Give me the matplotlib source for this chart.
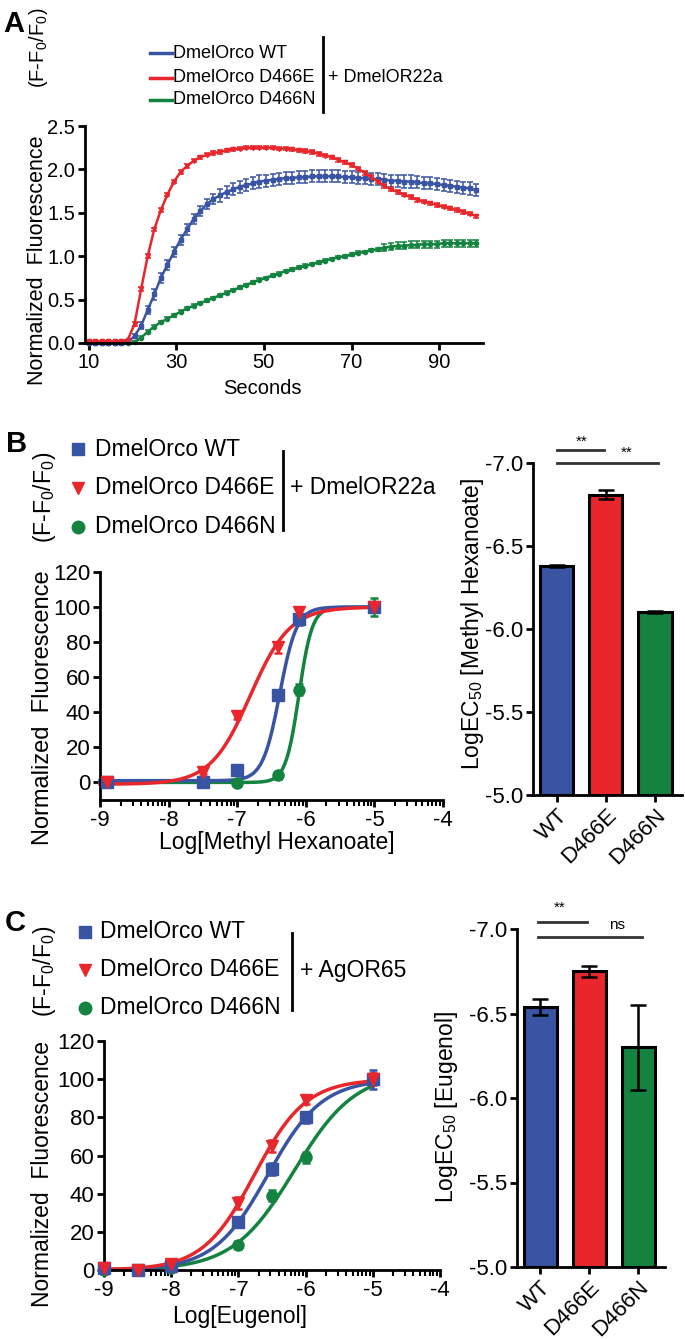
import numpy as np
import matplotlib
matplotlib.use('Agg')
import matplotlib.pyplot as plt
from matplotlib.lines import Line2D

plt.rcParams['font.family'] = ['Liberation Sans', 'DejaVu Sans']
plt.rcParams['mathtext.fontset'] = 'custom'
plt.rcParams['mathtext.rm'] = 'Liberation Sans'
plt.rcParams['mathtext.it'] = 'Liberation Sans:italic'
plt.rcParams['axes.unicode_minus'] = False

W, H = 685, 1339
BLUE = '#3a54a4'
RED = '#e8262b'
GREEN = '#13833f'
colors = [BLUE, RED, GREEN]
genotypes = ['DmelOrco WT', 'DmelOrco D466E', 'DmelOrco D466N']
bar_labels = ['WT', 'D466E', 'D466N']

# --- panel A: time course (mean, sem) ---
seconds = [10, 11.5, 13, 14.5, 16, 17.5, 19, 20.5, 22, 23.5, 25, 26.5, 28, 29.5, 31,
           32.5, 34, 35.5, 37, 38.5, 40, 41.5, 43, 44.5, 46, 47.5, 49, 50.5, 52, 53.5,
           55, 56.5, 58, 59.5, 61, 62.5, 64, 65.5, 67, 68.5, 70, 71.5, 73, 74.5, 76,
           77.5, 79, 80.5, 82, 83.5, 85, 86.5, 88, 89.5, 91, 92.5, 94, 95.5, 97, 98.5]
wt_trace = [0.0, 0.0, 0.0, 0.0, 0.0, 0.0, 0.01,
            0.08, 0.2, 0.38, 0.56, 0.75, 0.9, 1.05, 1.19, 1.31, 1.43, 1.52, 1.6, 1.66,
            1.7, 1.74, 1.77, 1.8, 1.82, 1.84, 1.86, 1.87, 1.88, 1.89,
            1.9, 1.9, 1.91, 1.91, 1.92, 1.92, 1.92, 1.92, 1.92, 1.91,
            1.91, 1.9, 1.9, 1.89, 1.89, 1.88, 1.87, 1.87, 1.86, 1.86,
            1.85, 1.84, 1.84, 1.83, 1.82, 1.81, 1.8, 1.79, 1.78, 1.76]
wt_err = [0, 0, 0, 0, 0, 0, 0,
          0.02, 0.04, 0.05, 0.06, 0.06, 0.06, 0.06, 0.06, 0.06, 0.06, 0.06, 0.06, 0.06,
          0.07, 0.07, 0.07, 0.07, 0.07, 0.07, 0.07, 0.07, 0.07, 0.07,
          0.07, 0.07, 0.07, 0.07, 0.07, 0.07, 0.07, 0.07, 0.07, 0.07,
          0.07, 0.07, 0.07, 0.07, 0.07, 0.07, 0.07, 0.07, 0.07, 0.07,
          0.07, 0.07, 0.07, 0.07, 0.07, 0.07, 0.07, 0.07, 0.07, 0.07]
e_trace = [0.02, 0.02, 0.02, 0.02, 0.02, 0.02, 0.04,
           0.22, 0.62, 1.0, 1.31, 1.53, 1.71, 1.86, 1.97, 2.04, 2.1, 2.14, 2.17, 2.19,
           2.2, 2.22, 2.23, 2.24, 2.25, 2.25, 2.25, 2.25, 2.25, 2.24,
           2.24, 2.23, 2.22, 2.21, 2.2, 2.18, 2.16, 2.14, 2.11, 2.08,
           2.05, 2.01, 1.96, 1.91, 1.86, 1.81, 1.77, 1.74, 1.71, 1.68,
           1.65, 1.63, 1.61, 1.59, 1.57, 1.55, 1.53, 1.51, 1.49, 1.46]
e_err = [0, 0, 0, 0, 0, 0, 0,
         0.02, 0.02, 0.02, 0.02, 0.02, 0.02, 0.02, 0.02, 0.02, 0.02, 0.02, 0.02, 0.02,
         0.02, 0.02, 0.02, 0.02, 0.02, 0.02, 0.02, 0.02, 0.02, 0.02,
         0.02, 0.02, 0.02, 0.02, 0.02, 0.02, 0.02, 0.02, 0.02, 0.02,
         0.02, 0.02, 0.02, 0.02, 0.02, 0.02, 0.02, 0.02, 0.02, 0.02,
         0.02, 0.02, 0.02, 0.02, 0.02, 0.02, 0.02, 0.02, 0.02, 0.02]
n_trace = [0.0, 0.0, 0.0, 0.0, 0.0, 0.0, 0.0,
           0.01, 0.06, 0.13, 0.19, 0.24, 0.28, 0.32, 0.36, 0.4, 0.43, 0.46, 0.49, 0.52,
           0.55, 0.58, 0.61, 0.64, 0.67, 0.7, 0.73, 0.75, 0.78, 0.8,
           0.83, 0.85, 0.87, 0.89, 0.91, 0.93, 0.95, 0.97, 0.99, 1.0,
           1.02, 1.04, 1.05, 1.07, 1.08, 1.1, 1.11, 1.12, 1.12, 1.13,
           1.13, 1.14, 1.14, 1.14, 1.15, 1.15, 1.15, 1.15, 1.15, 1.15]
n_err = [0, 0, 0, 0, 0, 0, 0,
         0.015, 0.015, 0.015, 0.015, 0.015, 0.015, 0.015, 0.015, 0.015, 0.015, 0.015, 0.015, 0.015,
         0.015, 0.015, 0.015, 0.015, 0.015, 0.015, 0.015, 0.015, 0.015, 0.015,
         0.015, 0.015, 0.015, 0.015, 0.015, 0.015, 0.015, 0.015, 0.015, 0.015,
         0.015, 0.015, 0.015, 0.015, 0.015, 0.04, 0.04, 0.04, 0.04, 0.04,
         0.04, 0.04, 0.04, 0.04, 0.04, 0.04, 0.04, 0.04, 0.04, 0.04]

# --- panel B: methyl hexanoate dose response ---
mh_logconc = [-8.9, -7.5, -7.0, -6.4, -6.1, -5.0]
mh_wt = [0, 0, 7, 50, 93, 100]
mh_wt_err = [1, 1, 2, 3, 3, 2]
mh_e = [0, 6, 38, 77, 97, 100]
mh_e_err = [1, 1, 2, 3, 2, 2]
mh_n = [0, 0, -0.5, 4, 53, 100]
mh_n_err = [1, 1, 1, 2, 3, 5]
mh_fit_bottom = [1, -1, 0]
mh_fit_top = [100, 100, 100]
mh_fit_logec50 = [-6.38, -6.81, -6.10]
mh_fit_hill = [3.5, 1.5, 4.5]
mh_ec50_bar = [-6.38, -6.81, -6.10]
mh_ec50_err = [0.006, 0.028, 0.006]

# --- panel C: eugenol dose response ---
eu_logconc = [-9.0, -8.5, -8.0, -7.0, -6.5, -6.0, -5.0]
eu_wt = [1, 0, 2, 25, 53, 80, 100]
eu_wt_err = [1, 1, 1, 2, 3, 3, 5]
eu_e = [1, 0, 3, 35, 65, 89, 100]
eu_e_err = [1, 1, 1, 3, 3, 2, 3]
eu_n = [0, 0, 1, 13, 39, 59, 100]
eu_n_err = [1, 1, 1, 2, 3, 3, 2]
eu_fit_bottom = [0, 0, 0]
eu_fit_top = [100, 100, 104]
eu_fit_logec50 = [-6.56, -6.76, -6.17]
eu_fit_hill = [1.08, 1.13, 0.95]
eu_ec50_bar = [-6.54, -6.75, -6.30]
eu_ec50_err = [0.047, 0.032, 0.25]


def fx(px):
    return px / W


def fy(py):
    return 1 - py / H


def style(ax, size):
    for s in ['top', 'right']:
        ax.spines[s].set_visible(False)
    for s in ['left', 'bottom']:
        ax.spines[s].set_linewidth(2)
    ax.tick_params(direction='out', width=2, length=5, pad=2, labelsize=size)
    ax.tick_params(which='minor', direction='out', width=1.5, length=4)


def hill(x, bottom, top, logec50, slope):
    return bottom + (top - bottom) / (1 + 10 ** ((logec50 - x) * slope))


fig = plt.figure(figsize=(W / 100, H / 100), dpi=100)

# ---------------- A ----------------
axA = fig.add_axes([fx(85), fy(343), (483 - 85) / W, (343 - 126) / H])
for tr, er, c, m in [(n_trace, n_err, GREEN, 'o'), (wt_trace, wt_err, BLUE, 's'),
                     (e_trace, e_err, RED, 'v')]:
    axA.errorbar(seconds, tr, yerr=er, color=c, marker=m, ms=3, lw=1.8,
                 capsize=2, elinewidth=1.1, capthick=1.1, clip_on=False)
axA.set_xlim(9.2, 100)
axA.set_ylim(0, 2.5)
axA.set_xticks([10, 30, 50, 70, 90])
axA.set_yticks([0, 0.5, 1.0, 1.5, 2.0, 2.5])
axA.set_yticklabels(['%.1f' % v for v in [0, 0.5, 1.0, 1.5, 2.0, 2.5]])
style(axA, 14.5)

fig.text(fx(262), fy(388), 'Seconds', ha='center', va='center', fontsize=14.5)
fig.text(fx(38), fy(260), 'Normalized  Fluorescence', rotation=90,
         ha='center', va='center', fontsize=15.5)
fig.text(fx(39), fy(48), r'(F-F$_0$/F$_0$)', rotation=90,
         ha='center', va='center', fontsize=14.5)
fig.text(fx(3), fy(24), 'A', fontsize=21, fontweight='bold', ha='left', va='center')

rows = [53, 78, 100]
for y, c, lab in zip(rows, colors, genotypes):
    fig.add_artist(Line2D([fx(150), fx(172)], [fy(y), fy(y)], color=c, lw=2.5,
                          transform=fig.transFigure))
    fig.text(fx(173), fy(y), lab, ha='left', va='center', fontsize=13)
fig.add_artist(Line2D([fx(323), fx(323)], [fy(37), fy(112)], color='black', lw=2,
                      transform=fig.transFigure))
fig.text(fx(328), fy(78), '+ DmelOR22a', ha='left', va='center', fontsize=13)


# ---------------- dose response helper ----------------
def dose_panel(ax, logconc, means, errs, bottoms, tops, ec50s, slopes, ymin):
    xs = np.linspace(-9, -5, 300)
    order = [2, 0, 1]
    for i in order:
        ax.plot(xs, hill(xs, bottoms[i], tops[i], ec50s[i], slopes[i]),
                color=colors[i], lw=2.5, clip_on=False, zorder=2)
    for i, m in zip(order, ['o', 's', 'v']):
        ax.errorbar(logconc, means[i], yerr=errs[i], fmt=m, color=colors[i],
                    ms=8, capsize=3, elinewidth=1.8, capthick=1.8,
                    clip_on=False, zorder=3)
    ax.set_xlim(-9, -4)
    ax.set_ylim(ymin, 120)
    ax.set_xticks(range(-9, -3))
    minor = [d + np.log10(k) for d in range(-9, -4) for k in range(2, 10)]
    ax.set_xticks(minor, minor=True)
    ax.set_yticks(range(0, 121, 20))
    style(ax, 16)


def legend_panel(mx, tx, rows, bar_x, bar_y, partner, partner_x):
    for y, c, lab, m in zip(rows, colors, genotypes, ['s', 'v', 'o']):
        fig.add_artist(Line2D([fx(mx)], [fy(y)], color=c, marker=m, ms=9, lw=0,
                              transform=fig.transFigure))
        fig.text(fx(tx), fy(y), lab, ha='left', va='center', fontsize=16.5)
    fig.add_artist(Line2D([fx(bar_x), fx(bar_x)], [fy(bar_y[0]), fy(bar_y[1])],
                          color='black', lw=2, transform=fig.transFigure))
    fig.text(fx(partner_x), fy(rows[1]), partner, ha='left', va='center', fontsize=16.5)


def bar_panel(ax, vals, errs):
    x = np.arange(3)
    ax.bar(x, [v + 5 for v in vals], bottom=-5, width=0.68, color=colors,
           edgecolor='black', linewidth=2.2, zorder=2)
    ax.errorbar(x, vals, yerr=errs, fmt='none', ecolor='black', elinewidth=1.8,
                capsize=6, capthick=1.8, zorder=3)
    ax.set_ylim(-5, -7)
    ax.set_xlim(-0.48, 2.55)
    ax.set_xticks(x)
    ax.set_xticklabels(bar_labels, rotation=45, ha='right', rotation_mode='anchor')
    ax.set_yticks([-7.0, -6.5, -6.0, -5.5, -5.0])
    ax.set_yticklabels(['%.1f' % v for v in [-7.0, -6.5, -6.0, -5.5, -5.0]])
    style(ax, 16)


# ---------------- B ----------------
axB = fig.add_axes([fx(100), fy(800), (443 - 100) / W, (800 - 572) / H])
dose_panel(axB, mh_logconc, [mh_wt, mh_e, mh_n], [mh_wt_err, mh_e_err, mh_n_err],
           mh_fit_bottom, mh_fit_top, mh_fit_logec50, mh_fit_hill, -10)
fig.text(fx(277), fy(843), 'Log[Methyl Hexanoate]', ha='center', va='center', fontsize=16.5)
fig.text(fx(43), fy(708), 'Normalized  Fluorescence', rotation=90,
         ha='center', va='center', fontsize=17)
fig.text(fx(44), fy(497), r'(F-F$_0$/F$_0$)', rotation=90,
         ha='center', va='center', fontsize=16.5)
fig.text(fx(6), fy(444), 'B', fontsize=21, fontweight='bold', ha='left', va='center')
legend_panel(78, 95, [449, 488, 527], 283, (451, 530), '+ DmelOR22a', 290)

axB2 = fig.add_axes([fx(533), fy(795), (682 - 533) / W, (795 - 463) / H])
bar_panel(axB2, mh_ec50_bar, mh_ec50_err)
axB2.plot([0, 0.96], [-7.078, -7.078], color='#333333', lw=2, clip_on=False)
axB2.plot([0, 2.06], [-7.0, -7.0], color='#333333', lw=2, clip_on=False)
axB2.text(0.51, -7.127, '**', ha='center', va='center', fontsize=11)
axB2.text(1.43, -7.06, '**', ha='center', va='center', fontsize=11)
fig.text(fx(472), fy(624), r'LogEC$_{50}$ [Methyl Hexanoate]', rotation=90,
         ha='center', va='center', fontsize=16.5)

# ---------------- C ----------------
axC = fig.add_axes([fx(104), fy(1270), (440 - 104) / W, (1270 - 1041) / H])
dose_panel(axC, eu_logconc, [eu_wt, eu_e, eu_n], [eu_wt_err, eu_e_err, eu_n_err],
           eu_fit_bottom, eu_fit_top, eu_fit_logec50, eu_fit_hill, 0)
fig.text(fx(240), fy(1317), 'Log[Eugenol]', ha='center', va='center', fontsize=16.5)
fig.text(fx(43), fy(1174), 'Normalized  Fluorescence', rotation=90,
         ha='center', va='center', fontsize=16.5)
fig.text(fx(44), fy(971), r'(F-F$_0$/F$_0$)', rotation=90,
         ha='center', va='center', fontsize=16.5)
fig.text(fx(5), fy(923), 'C', fontsize=21, fontweight='bold', ha='left', va='center')
legend_panel(85, 100, [932, 970, 1008], 292, (933, 1010), '+ AgOR65', 300)

axC2 = fig.add_axes([fx(517), fy(1267), (665 - 517) / W, (1267 - 929) / H])
bar_panel(axC2, eu_ec50_bar, eu_ec50_err)
axC2.plot([-0.06, 0.95], [-7.041, -7.041], color='#333333', lw=2, clip_on=False)
axC2.plot([-0.06, 2.07], [-6.953, -6.953], color='#333333', lw=2, clip_on=False)
axC2.text(0.4, -7.124, '**', ha='center', va='center', fontsize=11)
axC2.text(1.57, -7.024, 'ns', ha='center', va='center', fontsize=11)
fig.text(fx(447), fy(1107), r'LogEC$_{50}$ [Eugenol]', rotation=90,
         ha='center', va='center', fontsize=16.5)

fig.savefig('out.png', dpi=100)
